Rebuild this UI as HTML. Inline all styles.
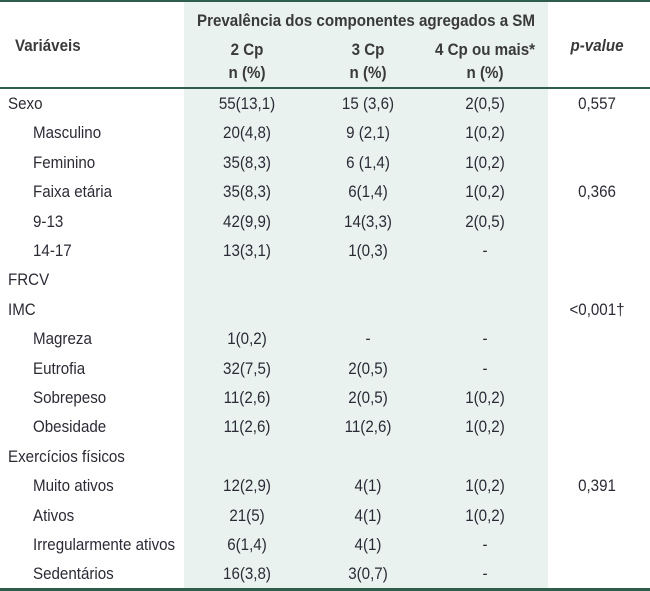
<!DOCTYPE html>
<html><head><meta charset="utf-8"><style>
body{margin:0;width:650px;height:591px;background:#fff;position:relative;overflow:hidden;font-family:"Liberation Sans",sans-serif;color:#2b2b35}
.t{position:absolute;font-size:17px;white-space:nowrap;transform:scaleX(0.89);transform-origin:left center;line-height:18px}
.c{transform:translateX(-50%) scaleX(0.89);transform-origin:center center}
.h{font-weight:bold;color:#3a3a3a}
.line{position:absolute;left:0;width:650px;background:#2e5e4b}
</style></head><body>
<div style="position:absolute;left:184px;top:2px;width:364px;height:587px;background:#eaf2f0"></div>
<div class="line" style="top:0;height:2px"></div>
<div class="line" style="top:87px;height:2px"></div>
<div class="line" style="top:588px;height:3px"></div>
<div class="t h c" style="left:366px;top:12px">Prevalência dos componentes agregados a SM</div>
<div class="t h" style="left:15px;top:37px">Variáveis</div>
<div class="t h c" style="left:247px;top:41px">2 Cp</div>
<div class="t h c" style="left:368px;top:41px">3 Cp</div>
<div class="t h c" style="left:485px;top:41px">4 Cp ou mais*</div>
<div class="t h c" style="left:247px;top:64px">n (%)</div>
<div class="t h c" style="left:368px;top:64px">n (%)</div>
<div class="t h c" style="left:485px;top:64px">n (%)</div>
<div class="t h c" style="left:597px;top:37px;font-style:italic">p-value</div>
<div id="rows"></div>
<script>
const labels=["Sexo","Masculino","Feminino","Faixa etária","9-13","14-17","FRCV","IMC","Magreza","Eutrofia","Sobrepeso","Obesidade","Exercícios físicos","Muito ativos","Ativos","Irregularmente ativos","Sedentários"];
const indent=[0,1,1,1,1,1,0,0,1,1,1,1,0,1,1,1,1];
const c2=["55(13,1)","20(4,8)","35(8,3)","35(8,3)","42(9,9)","13(3,1)","","","1(0,2)","32(7,5)","11(2,6)","11(2,6)","","12(2,9)","21(5)","6(1,4)","16(3,8)"];
const c3=["15 (3,6)","9 (2,1)","6 (1,4)","6(1,4)","14(3,3)","1(0,3)","","","-","2(0,5)","2(0,5)","11(2,6)","","4(1)","4(1)","4(1)","3(0,7)"];
const c4=["2(0,5)","1(0,2)","1(0,2)","1(0,2)","2(0,5)","-","","","-","-","1(0,2)","1(0,2)","","1(0,2)","1(0,2)","-","-"];
const pv=["0,557","","","0,366","","","","<0,001†","","","","","","0,391","","",""];
const root=document.getElementById('rows');
function add(txt,x,y,center,name){
  if(!txt)return;
  const d=document.createElement('div');
  d.className='t'+(center?' c':'');
  d.style.left=x+'px';d.style.top=y+'px';
  d.textContent=txt;
  
  
  root.appendChild(d);
}
labels.forEach((l,i)=>{
  const y=95+i*29.4;
  add(l,indent[i]?33:8,y,false,'row-label');
  add(c2[i],247,y,true,'cell-2cp');
  add(c3[i],368,y,true,'cell-3cp');
  add(c4[i],485,y,true,'cell-4cp');
  add(pv[i],597,y,true,'cell-p-value');
});
</script>
</body></html>
